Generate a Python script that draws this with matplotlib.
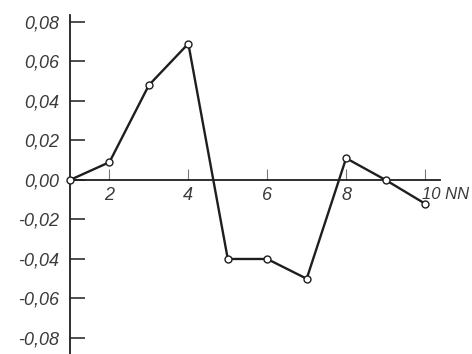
import matplotlib
matplotlib.use("Agg")
import matplotlib.pyplot as plt

nn = [1, 2, 3, 4, 5, 6, 7, 8, 9, 10]
values = [0.0, 0.009, 0.048, 0.069, -0.040, -0.040, -0.050, 0.011, 0.0, -0.012]
x_ticks = [2, 4, 6, 8]
x_tick_labels = ["2", "4", "6", "8"]
y_ticks = [0.08, 0.06, 0.04, 0.02, 0.0, -0.02, -0.04, -0.06, -0.08]
y_tick_labels = ["0,08", "0,06", "0,04", "0,02", "0,00", "-0,02", "-0,04", "-0,06", "-0,08"]
x_end_label = "10 NN"

fam = ["Liberation Sans", "DejaVu Sans"]
txt_color = "#3a3a3a"
line_color = "#1e1e1e"

fig = plt.figure(figsize=(4.72, 3.54), dpi=100)
ax = fig.add_axes([70 / 472, 0.0, 370 / 472, 339 / 354])
ax.set_xlim(1, 10.38)
ax.set_ylim(-0.0881, 0.0835)

ax.plot(nn, values, color=line_color, lw=1.7, marker="o", ms=5,
        mfc="white", mec=line_color, mew=1.0, zorder=3, clip_on=False)

for s in ["top", "right"]:
    ax.spines[s].set_visible(False)
ax.spines["bottom"].set_position(("data", 0))
ax.spines["left"].set_color(line_color)
ax.spines["bottom"].set_color(line_color)
ax.spines["left"].set_linewidth(1.3)
ax.spines["bottom"].set_linewidth(1.3)

ax.set_yticks(y_ticks)
ax.set_yticklabels(y_tick_labels, family=fam, style="italic", fontsize=13,
                   color=txt_color)
ax.tick_params(axis="y", direction="in", length=11, width=1.1, color=line_color, pad=8)

ax.set_xticks(x_ticks + [10])
ax.set_xticklabels(x_tick_labels + [""], family=fam, style="italic", fontsize=13,
                   color=txt_color)
ax.tick_params(axis="x", direction="in", length=8, width=0.8, color="#777777", pad=5)
ax.text(9.93, -0.0035, x_end_label, family=fam, style="italic", fontsize=12,
        color=txt_color, ha="left", va="top")

fig.savefig("out.png", dpi=100, facecolor="white")
